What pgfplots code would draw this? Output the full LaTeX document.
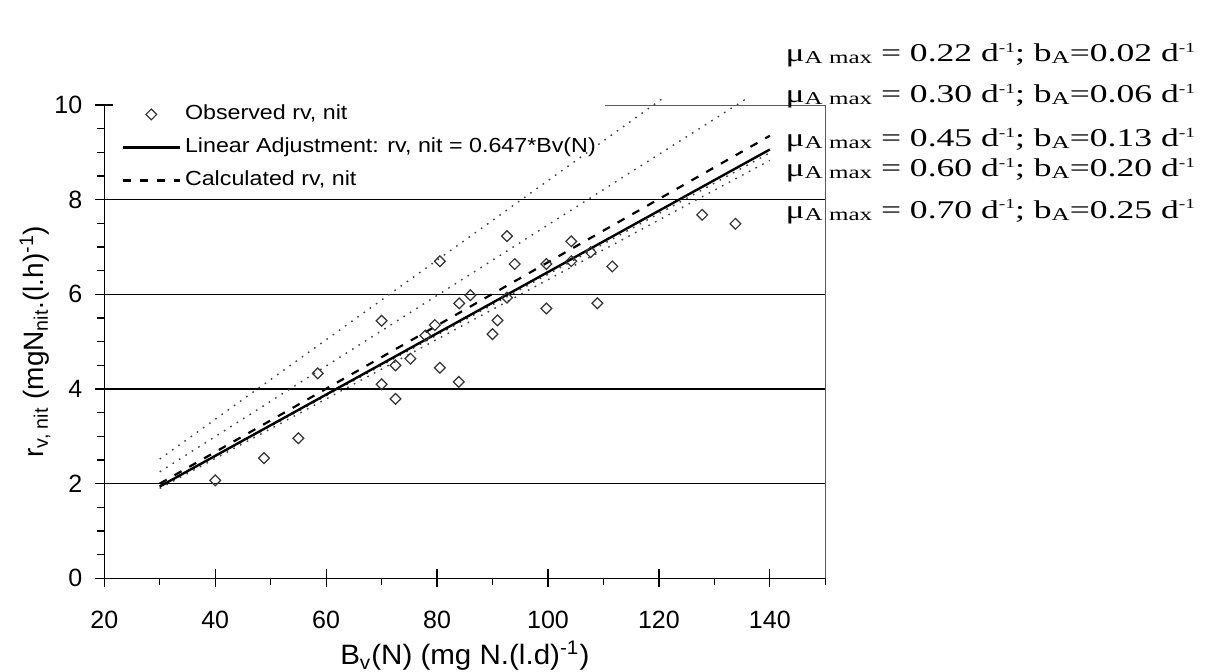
\documentclass[border=0pt]{standalone}
\usepackage{graphicx}
\usepackage{pgfplots}
\pgfplotsset{compat=1.18}
\usepackage{fontspec}
\setmainfont{Liberation Sans}
\newfontfamily\timesf{Liberation Serif}
\newcommand{\mysub}[1]{\raisebox{-1pt}{\fontsize{9}{9}\selectfont #1}}
\newcommand{\mysup}[1]{\raisebox{4.8pt}{\fontsize{7}{7}\selectfont #1}}
\newcommand{\muline}[2]{\scalebox{1.39}[1]{\timesf\fontsize{12.8}{13}\selectfont μ\mysub{A max} = #1 d\mysup{-1}; b\mysub{A}=#2 d\mysup{-1}}}
\newcommand{\leg}[1]{\scalebox{1.14}[1]{#1}}
\pgfplotsset{
  linelegend/.style={legend image code/.code={\draw[##1] (0cm,0cm) -- (1cm,0cm);}},
  marklegend/.style={legend image code/.code={\path (0cm,0cm) (1cm,0cm); \draw[##1] plot coordinates {(0.5cm,0cm)};}},
}
\pgfplotstableread{
x y
40.0 2.07
48.8 2.54
55.0 2.96
58.5 4.33
70.0 5.44
70.0 4.10
72.5 3.79
72.5 4.50
75.2 4.64
77.9 5.13
79.6 5.35
80.5 6.70
80.5 4.45
83.9 4.15
84.0 5.81
86.0 5.98
90.0 5.16
90.9 5.45
92.6 5.93
92.6 7.23
94.0 6.64
99.7 6.64
99.7 5.70
104.2 7.12
104.2 6.70
107.7 6.89
108.9 5.81
111.6 6.59
127.8 7.68
133.8 7.49
}\observed
\begin{document}
\begin{tikzpicture}
\useasboundingbox (-52.15pt,-46.35pt) rectangle (550.35pt,289.15pt);
\begin{axis}[
  at={(0pt,0pt)}, anchor=south west,
  scale only axis, width=360.5pt, height=236.65pt,
  xmin=20, xmax=150, ymin=0, ymax=10,
  enlargelimits=false, clip=false,
  axis lines=left,
  axis line style={-, black, line width=0.6pt},
  xtick={20,40,...,140},
  minor xtick={30,50,...,150},
  ytick={0,2,4,6,8},
  extra y ticks={10},
  extra y tick style={grid=none},
  minor ytick={0.5,1,1.5,2.5,3,3.5,4.5,5,5.5,6.5,7,7.5,8.5,9,9.5},
  ymajorgrids,
  major grid style={black, line width=0.6pt},
  tick align=center,
  major tick length=9pt,
  minor tick length=3.5pt,
  minor x tick style={yshift=-1.75pt},
  minor y tick style={xshift=-1.75pt},
  tick style={black, line width=0.6pt},
  /pgf/number format/assume math mode=true,
  ticklabel style={font=\fontsize{12.5}{13}\selectfont},
  xticklabel style={yshift=-8.5pt},
  yticklabel style={xshift=-3pt},
  xlabel={\scalebox{1.055}[1]{B\textsubscript{v}(N) (mg N.(l.d)\textsuperscript{-1})}},
  ylabel={r\textsubscript{v, nit} (mgN\textsubscript{nit}.(l.h)\textsuperscript{-1})},
  label style={font=\fontsize{14}{14}\selectfont},
  xlabel style={at={(axis description cs:0.5,-0.164)}, anchor=center},
  ylabel style={at={(axis description cs:-0.096,0.5)}, anchor=center},
  linelegend,
  reverse legend,
  legend style={at={(axis description cs:0,1)}, anchor=north west,
    xshift=5.5pt, yshift=4.5pt, draw=none, fill=none,
    font=\fontsize{10.2}{12}\selectfont,
    nodes={inner sep=2pt, text height=7.5pt, text depth=2.5pt},
    row sep=2.5pt},
  legend cell align=left,
]
% frame pieces
\addplot[gray!70!black, line width=0.5pt, forget plot] coordinates {(110.3,10) (150,10) (150,0)};
% dotted curves
\addplot[gray!50!black, line width=0.7pt, dash pattern=on 0.8pt off 3pt, forget plot] coordinates {(30,2.52) (120.8,10.15)};
\addplot[gray!50!black, line width=0.7pt, dash pattern=on 0.8pt off 3pt, forget plot] coordinates {(30,2.25) (136,10.15)};
\addplot[gray!50!black, line width=0.7pt, dash pattern=on 0.8pt off 3pt, forget plot] coordinates {(30,1.93) (140,8.99)};
\addplot[gray!50!black, line width=0.7pt, dash pattern=on 0.8pt off 3pt, forget plot] coordinates {(30,1.90) (140,8.83)};
\addplot[black, line width=1.1pt, dash pattern=on 4pt off 4.5pt] coordinates {(30,2.00) (140,9.35)};
\addlegendentry{\leg{Calculated rv, nit}}
\addplot[black, line width=1.2pt] coordinates {(30,1.94) (140,9.06)};
\addlegendentry{\leg{Linear Adjustment: rv, nit = 0.647*Bv(N)}}
\addplot[only marks, mark=square, mark size=1.9pt, mark options={rotate=45, draw=black!80, line width=0.6pt, fill=none}, marklegend]
  table[x=x,y=y] {\observed};
\addlegendentry{\leg{Observed rv, nit}}
% annotations
\node[anchor=base west, inner sep=0pt] at (axis cs:142.78,10.91) {\muline{0.22}{0.02}};
\node[anchor=base west, inner sep=0pt] at (axis cs:142.78,10.05) {\muline{0.30}{0.06}};
\node[anchor=base west, inner sep=0pt] at (axis cs:142.78,9.12) {\muline{0.45}{0.13}};
\node[anchor=base west, inner sep=0pt] at (axis cs:142.78,8.48) {\muline{0.60}{0.20}};
\node[anchor=base west, inner sep=0pt] at (axis cs:142.78,7.61) {\muline{0.70}{0.25}};
\end{axis}
\end{tikzpicture}
\end{document}
